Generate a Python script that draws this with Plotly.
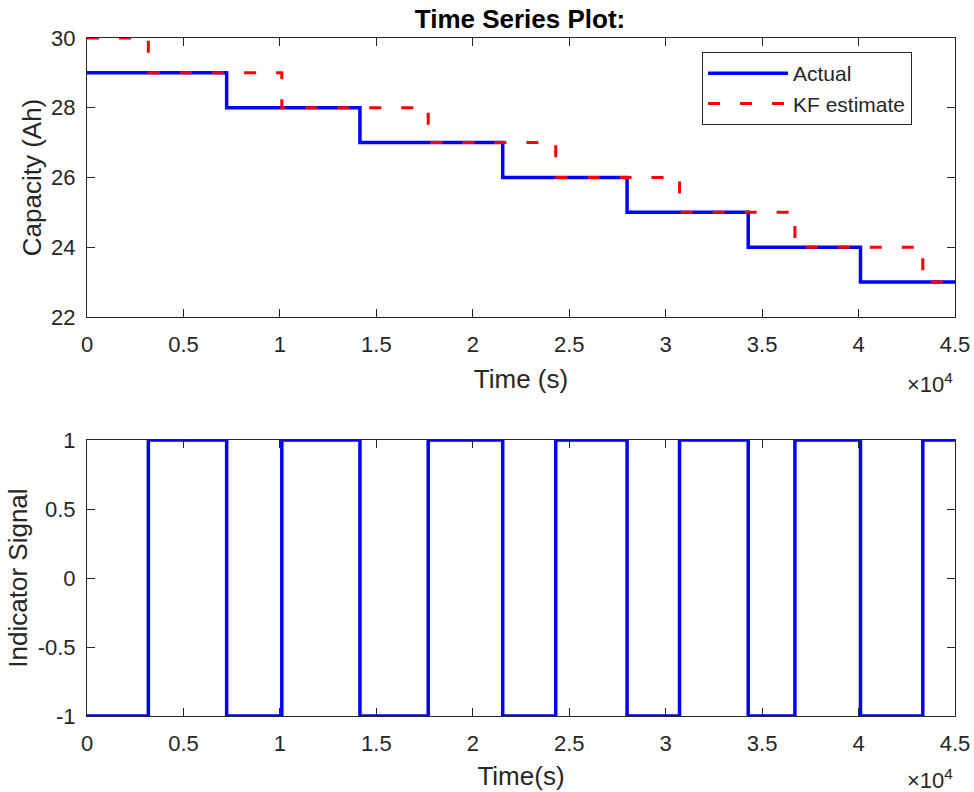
import plotly.graph_objects as go
from plotly.subplots import make_subplots

# ---- data ----
actual_t = [0, 7240, 14150, 21550, 28000, 34280, 40100, 45000]
actual_v = [29, 28, 27, 26, 25, 24, 23, 23]

kf_t = [0, 3180, 10100, 17690, 24300, 30720, 36700, 43330, 45000]
kf_v = [30, 29, 28, 27, 26, 25, 24, 23, 23]

ind_t = [0, 3180, 7240, 10100, 14150, 17690, 21550, 24300, 28000,
         30720, 34280, 36700, 40100, 43330, 45000]
ind_v = [-1, 1, -1, 1, -1, 1, -1, 1, -1, 1, -1, 1, -1, 1, 1]

x_ticks = [0, 5000, 10000, 15000, 20000, 25000, 30000, 35000, 40000, 45000]
x_tick_text = ["0", "0.5", "1", "1.5", "2", "2.5", "3", "3.5", "4", "4.5"]
cap_ticks = [22, 24, 26, 28, 30]
ind_ticks = [-1, -0.5, 0, 0.5, 1]
ind_tick_text = ["-1", "-0.5", "0", "0.5", "1"]

FONT = "Liberation Sans, Arial, Helvetica, sans-serif"
TXT = "#262626"
TICK_SIZE = 22
LABEL_SIZE = 26

W, H = 974, 792
ML, MR, MT, MB = 87, 19, 38, 76

fig = make_subplots(rows=2, cols=1)

fig.add_trace(go.Scatter(x=actual_t, y=actual_v, mode="lines", name="Actual",
                         line=dict(color="#0000FF", width=3.5, shape="hv")), row=1, col=1)
fig.add_trace(go.Scatter(x=kf_t, y=kf_v, mode="lines", name="KF estimate",
                         line=dict(color="#FF0000", width=3, shape="hv", dash="12px,20px")),
              row=1, col=1)
fig.add_trace(go.Scatter(x=ind_t, y=ind_v, mode="lines", showlegend=False,
                         line=dict(color="#0000FF", width=3.5, shape="hv")), row=2, col=1)

axis_common = dict(showline=True, mirror="ticks", linecolor=TXT, linewidth=1,
                   ticks="inside", ticklen=8, tickcolor=TXT, tickwidth=1,
                   showgrid=False, zeroline=False, automargin=False,
                   tickfont=dict(family=FONT, size=TICK_SIZE, color=TXT))

fig.update_xaxes(range=[0, 45000], tickvals=x_ticks, ticktext=x_tick_text,
                 ticklabelstandoff=8, **axis_common)
fig.update_xaxes(title=dict(text="Time (s)", font=dict(family=FONT, size=LABEL_SIZE, color=TXT),
                            standoff=13), row=1, col=1)
fig.update_xaxes(title=dict(text="Time(s)", font=dict(family=FONT, size=LABEL_SIZE, color=TXT),
                            standoff=11), row=2, col=1)
fig.update_yaxes(range=[22, 30], tickvals=cap_ticks, ticklabelstandoff=6, **axis_common,
                 row=1, col=1)
fig.update_yaxes(title=dict(text="Capacity (Ah)", font=dict(family=FONT, size=LABEL_SIZE, color=TXT),
                            standoff=2), row=1, col=1)
fig.update_yaxes(range=[-1, 1], tickvals=ind_ticks, ticktext=ind_tick_text, ticklabelstandoff=6,
                 **axis_common, row=2, col=1)
fig.update_yaxes(title=dict(text="Indicator Signal", font=dict(family=FONT, size=LABEL_SIZE, color=TXT),
                            standoff=2), row=2, col=1)

fig.layout.yaxis.domain = [0.5885, 1.0]
fig.layout.yaxis2.domain = [0.0, 0.407]

fig.add_annotation(text="×10<sup>4</sup>", xref="paper", yref="paper", x=1.0, y=0.5885,
                   xanchor="right", yanchor="middle", yshift=-66, showarrow=False,
                   font=dict(family=FONT, size=22, color=TXT))
fig.add_annotation(text="×10<sup>4</sup>", xref="paper", yref="paper", x=1.0, y=0.0,
                   xanchor="right", yanchor="middle", yshift=-63, showarrow=False,
                   font=dict(family=FONT, size=22, color=TXT))

fig.update_layout(
    width=W, height=H,
    margin=dict(l=ML, r=MR, t=MT, b=MB),
    paper_bgcolor="white", plot_bgcolor="white",
    title=dict(text="<b>Time Series Plot:</b>", x=520 / W, xanchor="center",
               y=1 - 19 / H, yanchor="middle", yref="container",
               font=dict(family=FONT, size=26, color="#000000")),
    legend=dict(x=(702 - 87) / 868, y=(716 - 52) / 678, xanchor="left", yanchor="top",
                bordercolor=TXT, borderwidth=1, bgcolor="white",
                itemwidth=80, tracegroupgap=0,
                font=dict(family=FONT, size=21, color=TXT)),
    showlegend=True,
)

fig.write_html("out.html", config={"displayModeBar": False},
               post_script="document.body.style.margin='0';")
